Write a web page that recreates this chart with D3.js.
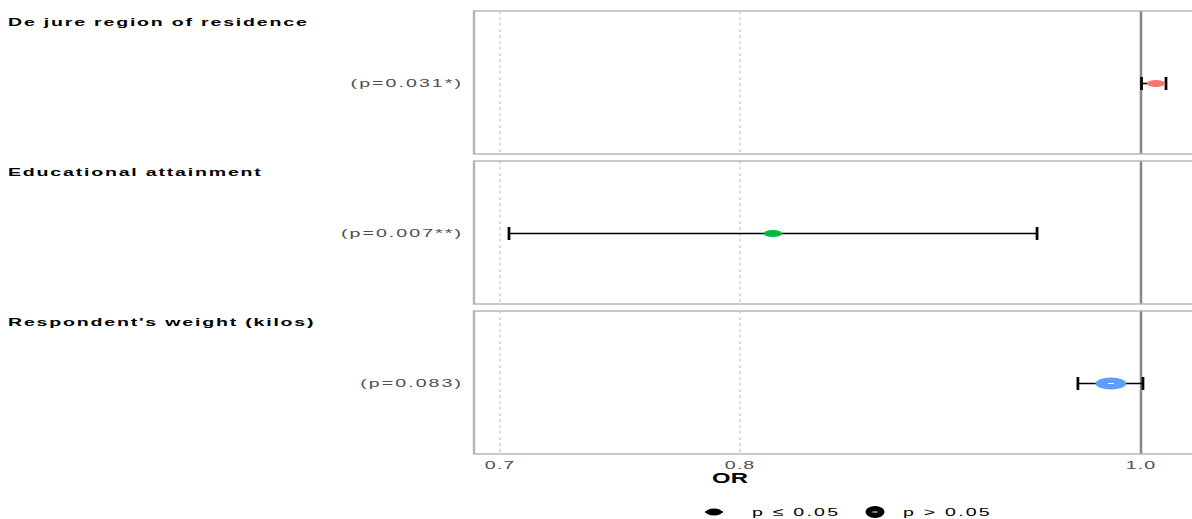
<!DOCTYPE html>
<html>
<head>
<meta charset="utf-8">
<script src="https://cdn.jsdelivr.net/npm/d3@7"></script>
<style>
  html, body { margin: 0; padding: 0; background: #fff; }
  svg { display: block; font-family: "Liberation Sans", Arial, sans-serif; }
</style>
</head>
<body>
<svg id="chart"></svg>
<script>
  // data
  const terms = ['De jure region of residence', 'Educational attainment', "Respondent's weight (kilos)"];
  const pLabels = ['(p=0.031*)', '(p=0.007**)', '(p=0.083)'];
  const pValues = [0.031, 0.007, 0.083];
  const estimates = [1.0084, 0.8148, 0.9834];
  const ciLow = [1.0003, 0.7035, 0.9655];
  const ciHigh = [1.014, 0.9438, 1.0011];
  const colors = ['#f8766d', '#00ba38', '#619cff'];
  const xTicks = [0.7, 0.8, 1.0];
  const legendLabels = ['p \u2264 0.05', 'p > 0.05'];

  // the original is stretched sideways, so draw in a narrow box and stretch it
  const W = 1192, H = 519, vbW = 700;
  const sx = W / vbW;
  const px = v => v / sx;

  const svg = d3.select('#chart')
    .attr('width', W).attr('height', H)
    .attr('viewBox', `0 0 ${vbW} ${H}`)
    .attr('preserveAspectRatio', 'none');

  const x = d3.scaleLog().domain([0.7, 1.0]).range([px(500), px(1141)]);
  const panelLeft = px(474), panelRight = px(1196);
  const panelTop = [11, 161, 311], panelH = 143;

  const y = i => panelTop[i] + panelH / 2 + 1;

  terms.forEach((t, i) => {
    const g = svg.append('g');
    const top = panelTop[i];

    // dashed grid lines
    g.selectAll('line.grid').data(xTicks.filter(d => d < 1)).enter().append('line')
      .attr('x1', d => x(d)).attr('x2', d => x(d))
      .attr('y1', top).attr('y2', top + panelH)
      .attr('stroke', '#dcdcdc').attr('stroke-width', 1.1)
      .attr('stroke-dasharray', '3,3');

    // reference line at OR = 1
    g.append('line')
      .attr('x1', x(1)).attr('x2', x(1))
      .attr('y1', top).attr('y2', top + panelH)
      .attr('stroke', '#888').attr('stroke-width', 1.5);

    // panel border
    g.append('rect')
      .attr('x', panelLeft).attr('y', top)
      .attr('width', panelRight - panelLeft).attr('height', panelH)
      .attr('fill', 'none').attr('stroke', '#b3b3b3').attr('stroke-width', 1.4);

    // term label
    g.append('text')
      .attr('x', px(8)).attr('y', top + 15)
      .attr('font-size', 11.5).attr('font-weight', 'bold').attr('fill', '#000')
      .attr('letter-spacing', 1.05)
      .text(t);

    // p label
    g.append('text')
      .attr('x', px(463)).attr('y', y(i) + 4)
      .attr('text-anchor', 'end')
      .attr('font-size', 11.5).attr('fill', '#4d4d4d')
      .attr('letter-spacing', 1.2)
      .text(pLabels[i]);

    // error bar
    const yy = y(i);
    g.append('line')
      .attr('x1', x(ciLow[i])).attr('x2', x(ciHigh[i]))
      .attr('y1', yy).attr('y2', yy)
      .attr('stroke', '#000').attr('stroke-width', 1.6);
    [ciLow[i], ciHigh[i]].forEach(v => {
      g.append('line')
        .attr('x1', x(v)).attr('x2', x(v))
        .attr('y1', yy - 6.5).attr('y2', yy + 6.5)
        .attr('stroke', '#000').attr('stroke-width', 1.6);
    });

    // point
    const sig = pValues[i] <= 0.05;
    const r = sig ? 3.6 : 6;
    g.append('ellipse')
      .attr('cx', x(estimates[i])).attr('cy', yy)
      .attr('rx', px(r * sx * 1.5)).attr('ry', r)
      .attr('fill', colors[i]);
    if (!sig) {
      g.append('line')
        .attr('x1', x(estimates[i]) - px(3)).attr('x2', x(estimates[i]) + px(3))
        .attr('y1', yy).attr('y2', yy)
        .attr('stroke', '#fff').attr('stroke-width', 1);
    }
  });

  // x axis tick labels
  svg.selectAll('text.tick').data(xTicks).enter().append('text')
    .attr('x', d => x(d)).attr('y', 469)
    .attr('text-anchor', 'middle')
    .attr('font-size', 11.5).attr('fill', '#4d4d4d')
    .attr('letter-spacing', 0.6)
    .text(d3.format('.1f'));

  svg.append('text')
    .attr('x', px(730)).attr('y', 483)
    .attr('text-anchor', 'middle')
    .attr('font-size', 14).attr('font-weight', 'bold')
    .text('OR');

  // legend
  const lg = svg.append('g');
  const legX = [px(714), px(875)];
  const textX = [px(752), px(903)];
  const ly = 512;
  lg.append('ellipse').attr('cx', legX[0]).attr('cy', ly)
    .attr('rx', px(8)).attr('ry', 3.6).attr('fill', '#000');
  lg.append('line').attr('x1', legX[0] - px(9)).attr('x2', legX[0] + px(9))
    .attr('y1', ly).attr('y2', ly).attr('stroke', '#000').attr('stroke-width', 1.6);
  lg.append('ellipse').attr('cx', legX[1]).attr('cy', ly)
    .attr('rx', px(9.5)).attr('ry', 6).attr('fill', '#000');
  lg.append('line').attr('x1', legX[1] - px(2.5)).attr('x2', legX[1] + px(2.5))
    .attr('y1', ly).attr('y2', ly).attr('stroke', '#fff').attr('stroke-width', 1);
  legendLabels.forEach((l, i) => {
    lg.append('text').attr('x', textX[i]).attr('y', ly + 4)
      .attr('font-size', 11.5).attr('fill', '#000')
      .attr('letter-spacing', 1.3)
      .text(l);
  });
</script>
</body>
</html>
